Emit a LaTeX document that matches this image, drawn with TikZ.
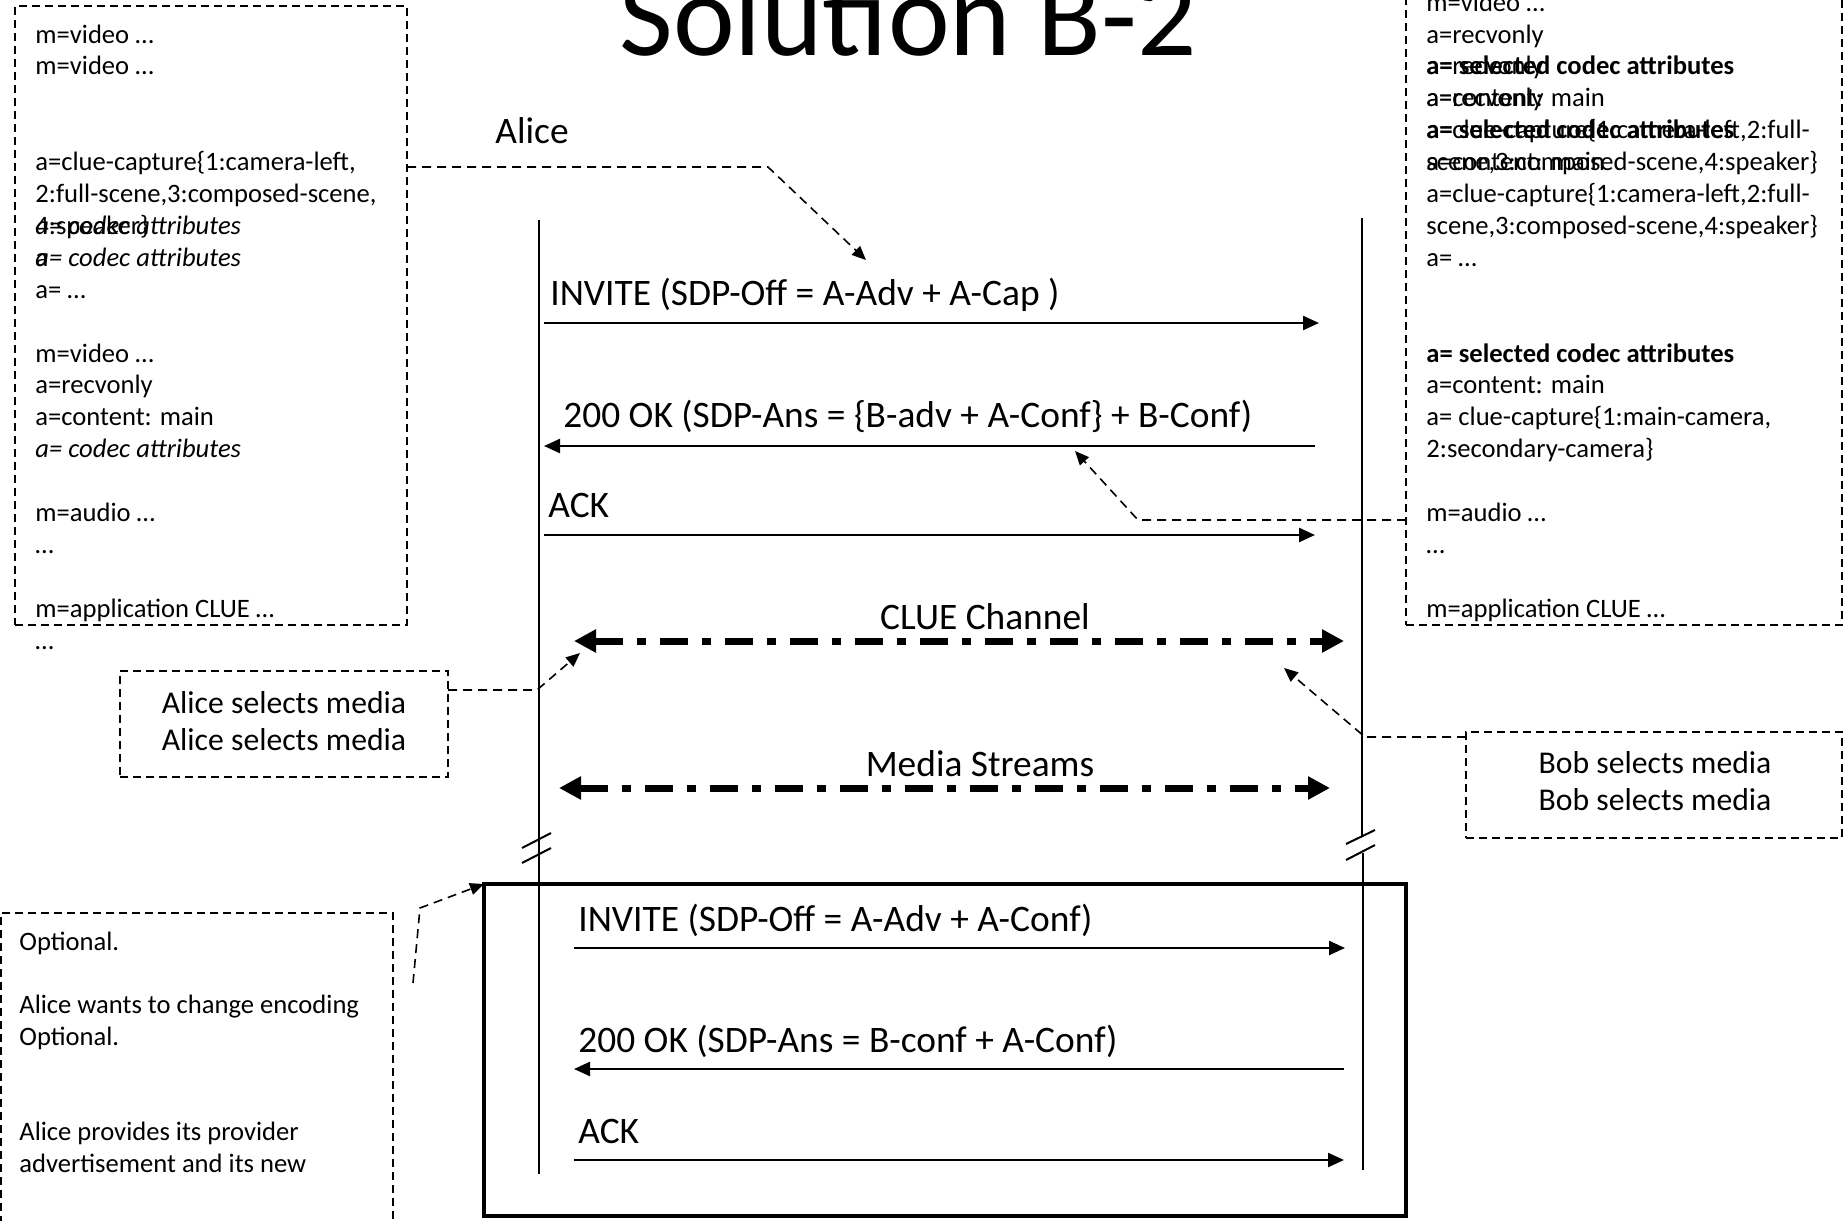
\documentclass[tikz,border=0pt]{standalone}
\usepackage{fontspec}
\setmainfont{Carlito}
\usetikzlibrary{arrows.meta}

\begin{document}
\begin{tikzpicture}[x=0.5pt,y=-0.5pt,
  sdp/.style={anchor=base west, inner sep=0pt, font=\fontsize{13.3pt}{15.95pt}\selectfont},
  msg/.style={anchor=base west, inner sep=0pt, font=\fontsize{18.7pt}{22pt}\selectfont},
  msgc/.style={anchor=base, inner sep=0pt, font=\fontsize{18.7pt}{22pt}\selectfont},
  sel/.style={anchor=base, inner sep=0pt, font=\fontsize{15.85pt}{19pt}\selectfont},
  notebox/.style={draw, line width=0.9pt, dash pattern=on 4pt off 2.5pt, anchor=north west, inner sep=0pt, outer sep=0pt},
  life/.style={line width=1pt},
  mline/.style={line width=1.2pt, -{Triangle[length=8pt,width=7pt]}},
  conn/.style={line width=0.8pt, dash pattern=on 4.5pt off 3pt, -{Triangle[length=7pt,width=6pt]}},
  flow/.style={line width=3.5pt, dash pattern=on 14pt off 7pt on 4.5pt off 7pt,
    {Triangle[length=11pt,width=11pt]}-{Triangle[length=11pt,width=11pt]}},
]
\useasboundingbox (0,0) rectangle (1844,1221);
\clip (0,0) rectangle (1844,1221);

% title
\node[anchor=base, inner sep=0pt, font=\fontsize{58.5pt}{70pt}\selectfont] (title) at (908,55) {Solution B-2};
\node[msg] (alice) at (495,143) {Alice};

% SDP offer box (Alice)
\node[notebox, minimum width=196pt, minimum height=309.5pt] (sdpA) at (15,6) {};
\node[sdp] (la1)  at (35,{11.1+1*31.9})  {m=video …};
\node[sdp] (la2)  at (35,{11.1+2*31.9})  {m=video …};
\node[sdp] (la5)  at (35,{11.1+5*31.9})  {a=clue-capture\{1:camera-left,};
\node[sdp] (la6)  at (35,{11.1+6*31.9})  {2:full-scene,3:composed-scene,};
\node[sdp] (la7)  at (35,{11.1+7*31.9})  {4:speaker\}};
\node[sdp] (la7i) at (35,{11.1+7*31.9})  {\itshape a= codec attributes};
\node[sdp] (la8)  at (35,{11.1+8*31.9})  {a};
\node[sdp] (la8i) at (35,{11.1+8*31.9})  {\itshape a= codec attributes};
\node[sdp] (la9)  at (35,{11.1+9*31.9})  {a= …};
\node[sdp] (la11) at (35,{11.1+11*31.9}) {m=video …};
\node[sdp] (la12) at (35,{11.1+12*31.9}) {a=recvonly};
\node[sdp] (la13) at (35,{11.1+13*31.9}) {a=content: main};
\node[sdp] (la14) at (35,{11.1+14*31.9}) {\itshape a= codec attributes};
\node[sdp] (la16) at (35,{11.1+16*31.9}) {m=audio …};
\node[sdp] (la17) at (35,{11.1+17*31.9}) {…};
\node[sdp] (la19) at (35,{11.1+19*31.9}) {m=application CLUE …};
\node[sdp] (la20) at (35,{11.1+20*31.9}) {…};

% SDP answer box (Bob)
\node[notebox, minimum width=218pt, minimum height=322.5pt] (sdpB) at (1406,-20) {};
\node[sdp] (rb0)  at (1426,{11.1+0*31.9})  {m=video …};
\node[sdp] (rb1)  at (1426,{11.1+1*31.9})  {a=recvonly};
\node[sdp] (rb2b) at (1426,{11.1+2*31.9})  {\bfseries a= selected codec attributes};
\node[sdp] (rb2)  at (1426,{11.1+2*31.9})  {a=recvonly};
\node[sdp] (rb3)  at (1426,{11.1+3*31.9})  {a=content: main};
\node[sdp] (rb3b) at (1426,{11.1+3*31.9})  {a=recvonly};
\node[sdp] (rb4b) at (1426,{11.1+4*31.9})  {\bfseries a= selected codec attributes};
\node[sdp] (rb4)  at (1426,{11.1+4*31.9})  {a=clue-capture\{1:camera-left,2:full-};
\node[sdp] (rb5)  at (1426,{11.1+5*31.9})  {scene,3:composed-scene,4:speaker\}};
\node[sdp] (rb5b) at (1426,{11.1+5*31.9})  {a=content: main};
\node[sdp] (rb6)  at (1426,{11.1+6*31.9})  {a=clue-capture\{1:camera-left,2:full-};
\node[sdp] (rb7)  at (1426,{11.1+7*31.9})  {scene,3:composed-scene,4:speaker\}};
\node[sdp] (rb8)  at (1426,{11.1+8*31.9})  {a= …};
\node[sdp] (rb11) at (1426,{11.1+11*31.9}) {\bfseries a= selected codec attributes};
\node[sdp] (rb12) at (1426,{11.1+12*31.9}) {a=content: main};
\node[sdp] (rb13) at (1426,{11.1+13*31.9}) {a= clue-capture\{1:main-camera,};
\node[sdp] (rb14) at (1426,{11.1+14*31.9}) {2:secondary-camera\}};
\node[sdp] (rb16) at (1426,{11.1+16*31.9}) {m=audio …};
\node[sdp] (rb17) at (1426,{11.1+17*31.9}) {…};
\node[sdp] (rb19) at (1426,{11.1+19*31.9}) {m=application CLUE …};

% selection notes
\node[notebox, minimum width=164pt, minimum height=53pt] (aliceSel) at (120,671) {};
\node[sel] (as1) at (284,713) {Alice selects media};
\node[sel] (as2) at (284,750) {Alice selects media};
\node[notebox, minimum width=188pt, minimum height=53pt] (bobSel) at (1466,732) {};
\node[sel] (bs1) at (1655,773) {Bob selects media};
\node[sel] (bs2) at (1655,810) {Bob selects media};

% optional re-offer note
\node[notebox, minimum width=196pt, minimum height=165pt] (optNote) at (1,913) {};
\node[sdp] (on1) at (19,950)  {Optional.};
\node[sdp] (on2) at (19,1013) {Alice wants to change encoding};
\node[sdp] (on3) at (19,1045) {Optional.};
\node[sdp] (on4) at (19,1140) {Alice provides its provider};
\node[sdp] (on5) at (19,1172) {advertisement and its new};

% lifelines
\coordinate (aTop) at (539,220);
\coordinate (aBot) at (539,1174);
\coordinate (bTop) at (1362,218);
\coordinate (bBrk1) at (1362,837);
\coordinate (bBrk2) at (1363,853);
\coordinate (bBot) at (1363,1170);
\draw[life] (aTop) -- (aBot);
\draw[life] (bTop) -- (bBrk1);
\draw[life] (bBrk2) -- (bBot);
% break marks
\draw[life] (522,848) -- (551,833);
\draw[life] (522,863) -- (551,848);
\draw[life] (1346,844) -- (1375,830);
\draw[life] (1346,860) -- (1375,845);

% optional exchange frame
\node[draw, line width=2pt, anchor=north west, inner sep=0pt, outer sep=0pt,
  minimum width=461pt, minimum height=166pt] (frame) at (484,884) {};

% messages
\coordinate (m1a) at (544,323);  \coordinate (m1b) at (1319,323);
\coordinate (m2a) at (1315,446); \coordinate (m2b) at (544,446);
\coordinate (m3a) at (544,535);  \coordinate (m3b) at (1315,535);
\coordinate (m4a) at (574,948);  \coordinate (m4b) at (1345,948);
\coordinate (m5a) at (1344,1069);\coordinate (m5b) at (574,1069);
\coordinate (m6a) at (574,1160); \coordinate (m6b) at (1344,1160);
\draw[mline] (m1a) -- (m1b);
\draw[mline] (m2a) -- (m2b);
\draw[mline] (m3a) -- (m3b);
\draw[mline] (m4a) -- (m4b);
\draw[mline] (m5a) -- (m5b);
\draw[mline] (m6a) -- (m6b);
\node[msg] (l1) at (550,305)  {INVITE (SDP-Off = A-Adv + A-Cap )};
\node[msg] (l2) at (563,427)  {200 OK (SDP-Ans = \{B-adv + A-Conf\} + B-Conf)};
\node[msg] (l3) at (548,517)  {ACK};
\node[msg] (l4) at (578,931)  {INVITE (SDP-Off = A-Adv + A-Conf)};
\node[msg] (l5) at (578,1052) {200 OK (SDP-Ans = B-conf + A-Conf)};
\node[msg] (l6) at (578,1143) {ACK};

% CLUE channel and media streams
\coordinate (cA) at (574,641);  \coordinate (cB) at (1344,641);
\coordinate (sA) at (559,788);  \coordinate (sB) at (1330,788);
\draw[flow] (cA) -- (cB);
\draw[flow] (sA) -- (sB);
\node[msgc] (clue) at (985,629) {CLUE Channel};
\node[msgc] (media) at (980,776) {Media Streams};

% annotation connectors
\coordinate (t1) at (866,260);
\coordinate (t2) at (1075,451);
\coordinate (t3) at (580,653);
\coordinate (t4) at (1284,668);
\coordinate (t5s) at (413,983);
\draw[conn] (sdpA.east |- 0,167) -- (768,167) -- (t1);
\draw[conn] (sdpB.west |- 0,520) -- (1138,520) -- (t2);
\draw[conn] (aliceSel.east |- 0,690) -- (537,690) -- (t3);
\draw[conn] (bobSel.west |- 0,737) -- (1365,737) -- (t4);
\draw[conn] (t5s) -- (420,908) -- (frame.north west);
\end{tikzpicture}
\end{document}
